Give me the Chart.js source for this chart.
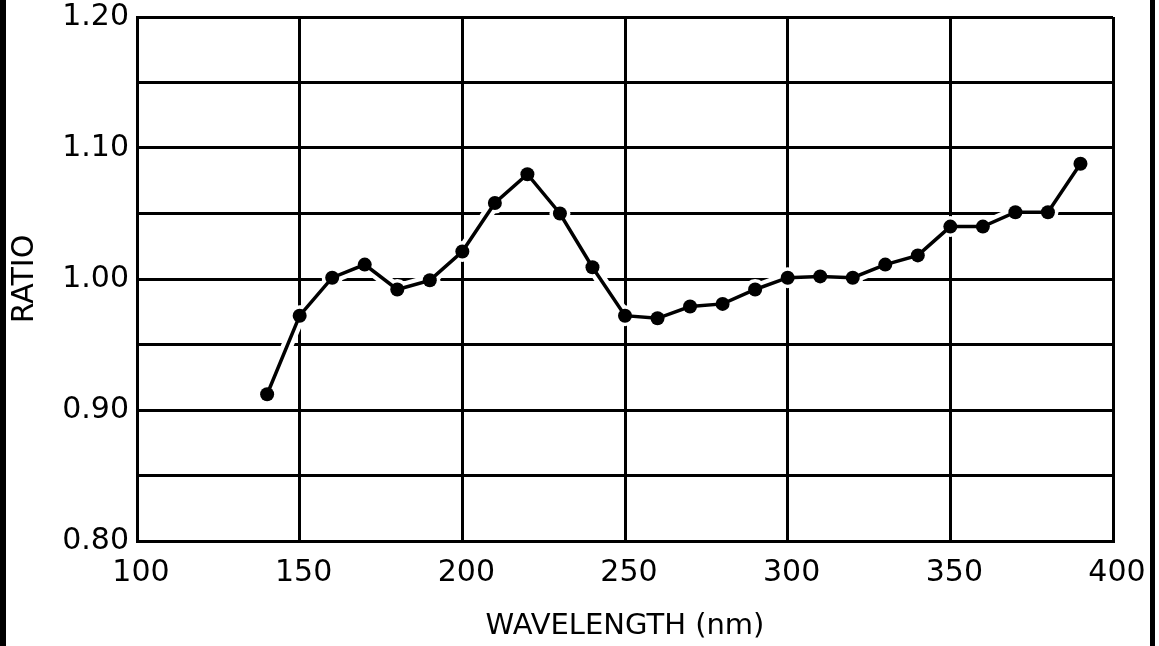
<!DOCTYPE html>
<html>
<head>
<meta charset="utf-8">
<script src="https://cdn.jsdelivr.net/npm/chart.js@4"></script>
<style>
  html, body { margin: 0; padding: 0; background: #fff; }
  #wrap { position: relative; width: 1159px; height: 646px; }
  canvas { display: block; }
  .bar { position: absolute; top: 0; height: 646px; background: #000; }
</style>
</head>
<body>
<div id="wrap">
  <canvas id="c" width="1159" height="646"></canvas>
  <div class="bar" style="left:0px;width:6px;"></div>
  <div class="bar" style="left:1150px;width:5px;"></div>
</div>
<script>
// Data
const wavelengths = [140,150,160,170,180,190,200,210,220,230,240,250,260,270,280,290,300,310,320,330,340,350,360,370,380,390];
const ratio = [0.912,0.972,1.001,1.011,0.992,0.999,1.021,1.058,1.080,1.050,1.009,0.972,0.970,0.979,0.981,0.992,1.001,1.002,1.001,1.011,1.018,1.040,1.040,1.051,1.051,1.088];
const xTicks = [100,150,200,250,300,350,400];
const yLabelTicks = ["0.80","0.90","1.00","1.10","1.20"];

const points = wavelengths.map((w, i) => ({x: w, y: ratio[i]}));
const FONT = "'DejaVu Sans', sans-serif";

new Chart(document.getElementById('c'), {
  type: 'scatter',
  data: {
    datasets: [
      {
        data: points,
        showLine: true,
        borderColor: '#000',
        borderWidth: 3.5,
        pointRadius: 7,
        pointBackgroundColor: '#000',
        pointBorderWidth: 0,
        order: 1
      },
      {
        data: points,
        showLine: true,
        borderColor: '#fff',
        borderWidth: 12,
        pointRadius: 10.5,
        pointBackgroundColor: '#fff',
        pointBorderWidth: 0,
        order: 2
      }
    ]
  },
  options: {
    responsive: false,
    animation: false,
    layout: { padding: { top: 17, right: 46, bottom: 0, left: 0 } },
    plugins: { legend: { display: false }, tooltip: { enabled: false } },
    scales: {
      x: {
        type: 'linear',
        min: 100, max: 400,
        afterBuildTicks: (s) => { s.ticks = xTicks.map(v => ({value: v})); },
        afterFit: (s) => { s.height = 105; },
        grid: { color: '#000', lineWidth: 3, drawTicks: false },
        border: { color: '#000', width: 3 },
        ticks: {
          color: '#000', padding: 14, labelOffset: 4,
          font: { family: FONT, size: 30 },
          callback: (v) => String(v)
        },
        title: {
          display: true, text: 'WAVELENGTH (nm)', color: '#000',
          font: { family: FONT, size: 29 },
          padding: { top: 0, bottom: 2 }
        }
      },
      y: {
        type: 'linear',
        min: 0.8, max: 1.2,
        ticks: {
          stepSize: 0.05, color: '#000', padding: 8,
          font: { family: FONT, size: 30 },
          callback: (v) => {
            const h = Math.round(v * 100);
            if (h % 10 !== 0) return '';
            return yLabelTicks.find(t => Math.round(parseFloat(t) * 100) === h) || '';
          }
        },
        afterFit: (s) => { s.width = 137; s.paddingTop = 0; s.paddingBottom = 0; },
        grid: { color: '#000', lineWidth: 3, drawTicks: false },
        border: { color: '#000', width: 3 },
        title: {
          display: true, text: 'RATIO', color: '#000',
          font: { family: FONT, size: 30 },
          padding: { top: 7, bottom: 0 }
        }
      }
    }
  }
});
</script>
</body>
</html>
